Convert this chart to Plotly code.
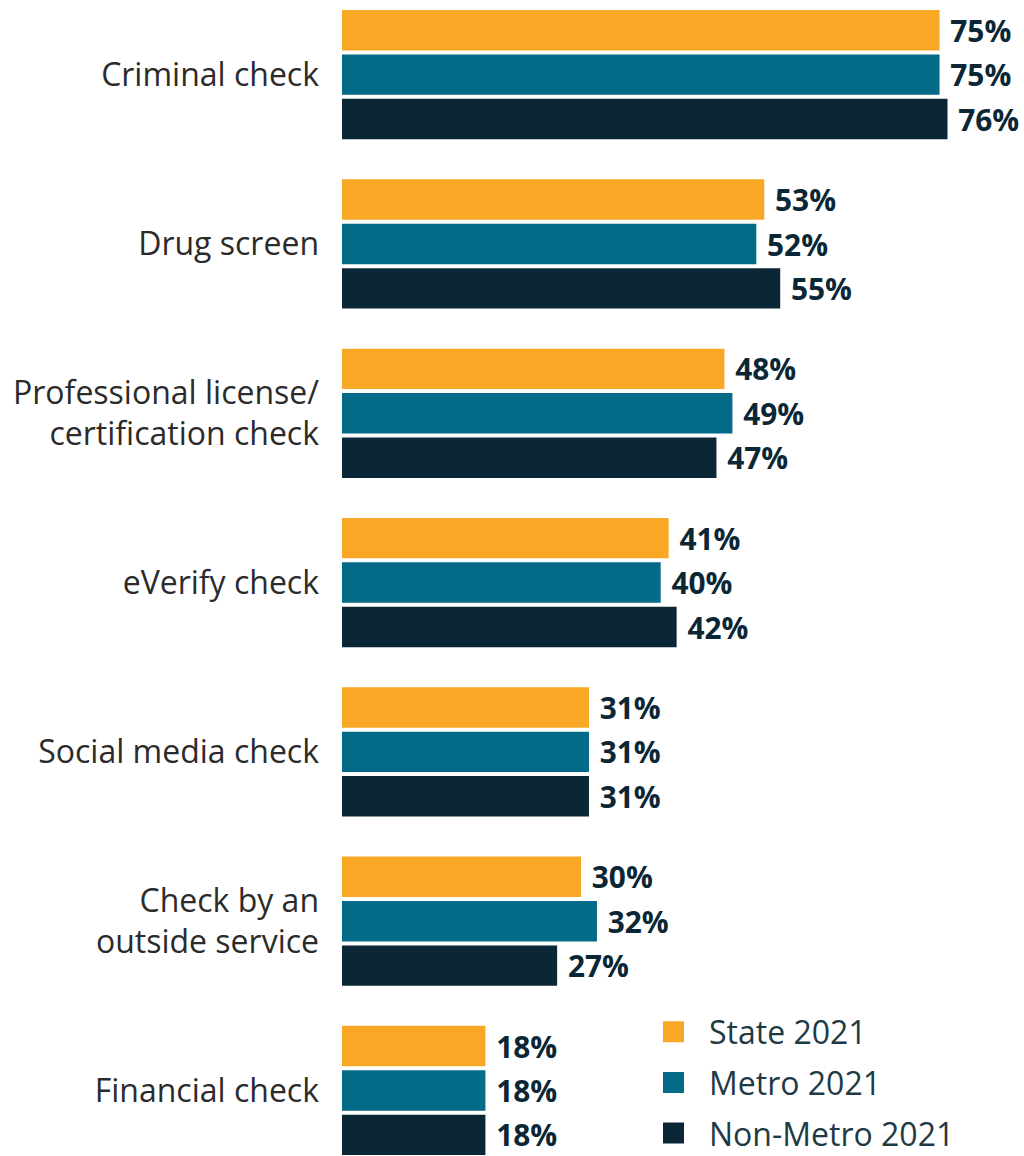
import plotly.graph_objects as go

categories = [
    "Criminal check",
    "Drug screen",
    "Professional license/<br>certification check",
    "eVerify check",
    "Social media check",
    "Check by an<br>outside service",
    "Financial check",
]
series_names = ["State 2021", "Metro 2021", "Non-Metro 2021"]
state_2021 = [75, 53, 48, 41, 31, 30, 18]
metro_2021 = [75, 52, 49, 40, 31, 32, 18]
nonmetro_2021 = [76, 55, 47, 42, 31, 27, 18]
colors = ["#F9A825", "#036A87", "#0B2735"]

fig = go.Figure()
for name, vals, col in zip(series_names, [state_2021, metro_2021, nonmetro_2021], colors):
    fig.add_trace(go.Bar(
        x=vals, y=categories, orientation="h", name=name,
        marker=dict(color=col, line=dict(width=0)),
        text=[f"{v}%" for v in vals],
        texttemplate=" %{text}",
        textposition="outside",
        textfont=dict(family="Open Sans", size=31, color="#0B2735", weight="bold"),
        cliponaxis=False,
        showlegend=False,
    ))
for i, (name, col) in enumerate(zip(series_names, colors)):
    fig.add_trace(go.Scatter(
        x=[None], y=[None], mode="markers", name=name,
        legendgroup=f"g{i}",
        marker=dict(symbol="square", size=16, color=col, line=dict(width=6, color=col)),
        showlegend=True,
    ))

fig.update_layout(
    width=1024, height=1156,
    margin=dict(l=342, r=0, t=0, b=0, autoexpand=False),
    paper_bgcolor="white", plot_bgcolor="white",
    barmode="group", bargap=0.213, bargroupgap=0.09,
    font=dict(family="Open Sans", color="#2B2B2B"),
    legend=dict(
        x=0.434, y=0.131, xanchor="left", yanchor="top",
        font=dict(size=32, color="#1E3A45"),
        itemwidth=61,
        tracegroupgap=6, bgcolor="rgba(0,0,0,0)",
    ),
    showlegend=True,
)
fig.update_xaxes(range=[0, 85.6], visible=False, showgrid=False, zeroline=False)
fig.update_yaxes(
    range=[6.387, -0.441], type="category",
    showgrid=False, zeroline=False, showline=False, ticks="",
    tickfont=dict(family="Open Sans", size=32, color="#2B2B2B"),
    ticklabelstandoff=22,
)

fig.write_html("out.html")
